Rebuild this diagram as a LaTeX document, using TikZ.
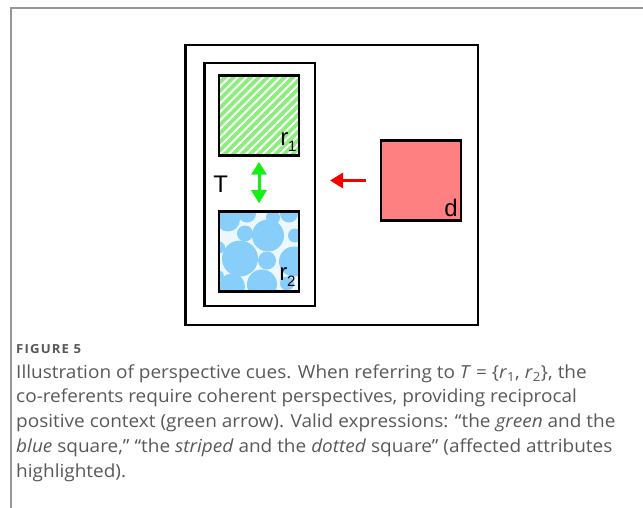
\documentclass[tikz,border=0pt]{standalone}
\usepackage{fontspec}
\setmainfont[FakeStretch=1.055]{Open Sans}
\newfontfamily\figfont{Liberation Sans}
\usetikzlibrary{calc,arrows.meta}
\definecolor{stripegreen}{RGB}{140,238,125}
\definecolor{dotblue}{RGB}{135,206,250}
\definecolor{dotbg}{RGB}{236,248,253}
\definecolor{dsquare}{RGB}{255,128,128}
\definecolor{arrgreen}{RGB}{20,240,20}
\definecolor{arrred}{RGB}{245,0,0}
\definecolor{capgray}{RGB}{88,88,88}
\definecolor{framegray}{RGB}{150,150,150}
\newcommand\lowsub[1]{\raisebox{-6pt}{\fontsize{15}{15}\selectfont #1}}

\begin{document}
\begin{tikzpicture}[x=1pt,y=-1pt,line width=2.5pt,>={Triangle[width=15pt,length=13pt]},
  sq/.style={draw,minimum size=80pt,inner sep=0pt},
  lbl/.style={anchor=base west,inner sep=0pt,font=\figfont\fontsize{24}{24}\selectfont},
  capline/.style={anchor=base west,inner sep=0pt,text=capgray,font=\fontsize{18}{18}\selectfont}]
  \useasboundingbox (0,0) rectangle (643,508);
  % page frame
  \draw[framegray,line width=2pt] (643,8) -- (11,8) -- (11,508);
  % scene and target set
  \node[draw,minimum width=292.5pt,minimum height=279.5pt,inner sep=0pt] (outer) at (331.5,185) {};
  \node[draw,minimum width=110.5pt,minimum height=242.5pt,inner sep=0pt] (tset) at (259.5,184.5) {};
  % r1: striped green
  \node[sq,fill=stripegreen,path picture={
      \foreach \k in {-12,...,12}
        \draw[white,line width=1.8pt] ($(path picture bounding box.center)+(\k*8.5-60,60)$) -- ++(120,-120);
    }] (rone) at (259,115.5) {};
  % r2: blue dots
  \node[sq,fill=dotbg,path picture={
      \foreach \cx/\cy/\rr in {9/8/12,28/2/9,54/6/7,70/2/9,26/22/8,49/24/16,76/24/7,0/36/6,21/47/18,48/49/9,75/50/15,13/75/13,43/73/15,68/72/7,0/64/5}
        \fill[dotblue] ($(path picture bounding box.north west)+(\cx,\cy)$) circle (\rr pt);
    }] (rtwo) at (259,251.5) {};
  % distractor
  \node[sq,fill=dsquare] (dbox) at (421,180.5) {};
  % labels
  \node[lbl] (lone) at (279,146) {r\lowsub{1}};
  \node[lbl] (ltwo) at (278,280) {r\lowsub{2}};
  \node[lbl] (ld) at (443,217) {d};
  \node[lbl] (lt) at (212,193) {T};
  % reciprocal context (green) and distractor cue (red)
  \draw[<->,arrgreen,line width=3pt,shorten <=5pt,shorten >=7pt] (rone.south) -- (rtwo.north);
  \draw[<-,arrred,line width=3pt,shorten <=14pt,shorten >=14pt] (tset.east |- dbox.west) -- (dbox.west);
  % caption
  \node[capline,font=\bfseries\fontsize{12.5}{12.5}\selectfont\addfontfeatures{LetterSpace=9}] (fig) at (15,353) {FIGURE 5};
  \node[capline] (cap1) at (15,378) {Illustration of perspective cues. When referring to \textit{T} = \{\textit{r}\textsubscript{1}, \textit{r}\textsubscript{2}\}, the};
  \node[capline] (cap2) at (15,402.5) {co-referents require coherent perspectives, providing reciprocal};
  \node[capline] (cap3) at (15,427) {positive context (green arrow). Valid expressions: “the \textit{green} and the};
  \node[capline] (cap4) at (15,452) {\textit{blue} square,” “the \textit{striped} and the \textit{dotted} square” (affected attributes};
  \node[capline] (cap5) at (15,477) {highlighted).};
\end{tikzpicture}
\end{document}
